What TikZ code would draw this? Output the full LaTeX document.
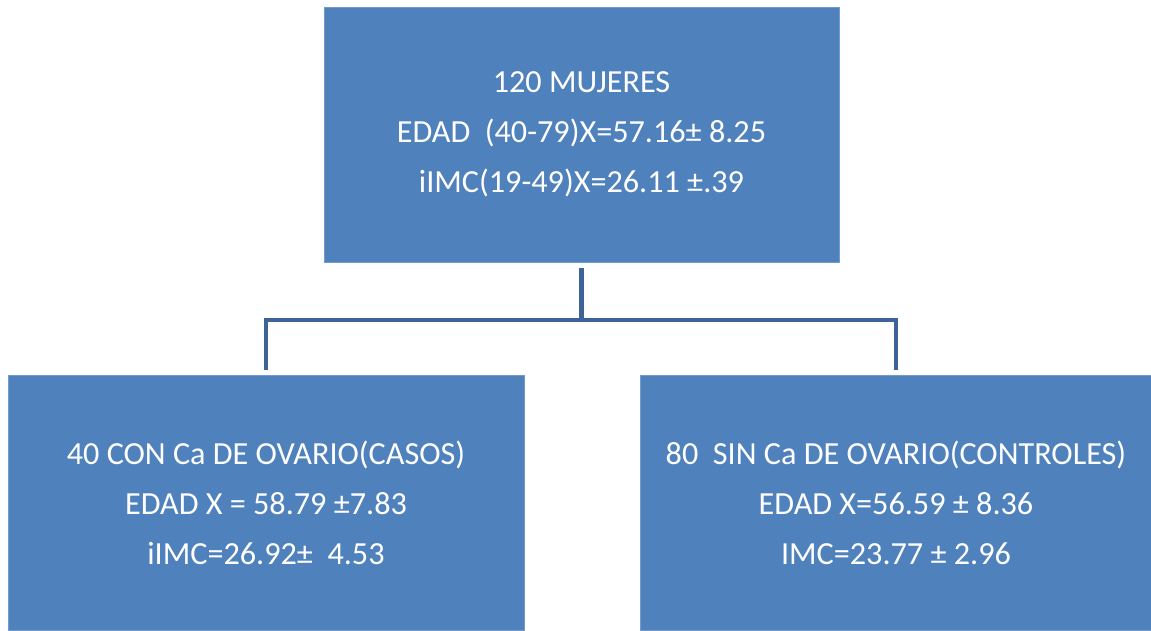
\documentclass[tikz,border=0pt]{standalone}
\usepackage{fontspec}
\setmainfont{Carlito}
\definecolor{boxblue} {RGB}{79,129,189}
\definecolor{linkblue}{RGB}{61,100,150}
\usetikzlibrary{positioning}
\tikzset{
  grpbox/.style={rectangle,draw=boxblue!80!white,line width=0.8pt,
                 fill=boxblue,text=white,minimum width=#1,minimum height=255pt,
                 inner sep=0pt,align=center,
                 font=\fontsize{32.2}{50}\selectfont},
  grpbox/.default=515pt,
  link/.style={linkblue,line width=4.7pt},
}
\begin{document}
\begin{tikzpicture}[x=1pt,y=-1pt]
        \useasboundingbox (0,0) rectangle (1151,630);

        % Total sample
        \node[grpbox] (total) at (581.5,134.5)
          {120 MUJERES\\
           EDAD\ \ (40-79)X=57.16± 8.25\\
           iIMC(19-49)X=26.11 ±.39};

        % Cases -- left
        \node[grpbox=516pt] (casos) at (266,503)
          {40 CON Ca DE OVARIO(CASOS)\\
           EDAD X = 58.79 ±7.83\\
           iIMC=26.92±\ \ 4.53};

        % Controls -- right
        \node[grpbox=512pt] (ctrl) at (896,503)
          {80\ \ SIN Ca DE OVARIO(CONTROLES)\\
           EDAD X=56.59 ± 8.36\\
           IMC=23.77 ± 2.96};

        % Tree connector
        \coordinate (split) at (581.5,320);
        \draw[link] ([yshift=-6pt]total.south) -- (split);
        \draw[link] ([yshift=5pt]casos.north) |- (split) -| ([yshift=5pt]ctrl.north);

\end{tikzpicture}
\end{document}
